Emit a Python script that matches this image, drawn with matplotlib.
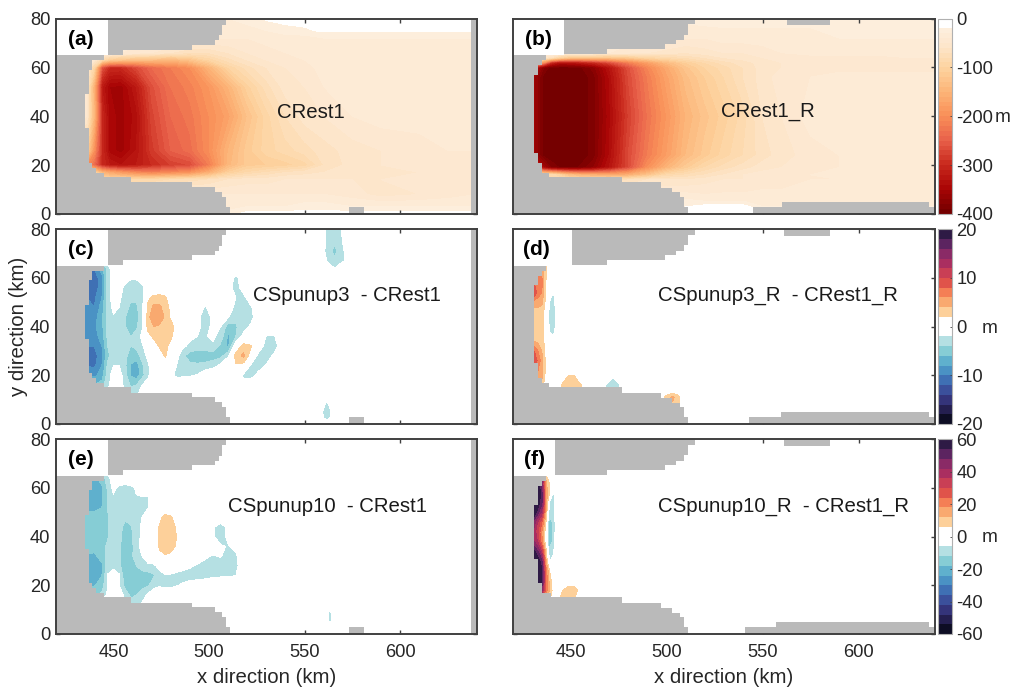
import numpy as np
import matplotlib
matplotlib.use('Agg')
import matplotlib.pyplot as plt
from matplotlib.colors import LinearSegmentedColormap, ListedColormap
from matplotlib.patches import Rectangle

plt.rcParams['font.family'] = ['Liberation Sans', 'DejaVu Sans']
plt.rcParams['axes.unicode_minus'] = False

# ---- panel a / b : mean depth (m) ----
x_top = [430, 436, 440, 444, 448, 454, 462, 470, 480, 490, 500, 510, 520, 530, 540, 550, 560, 575, 590, 610, 625, 640]

y_a = [0, 3, 8, 14, 17, 20, 26, 40, 52, 60, 63, 66, 72, 75, 80]
z_a = [
    [-30, -30, -30, -30, -30, -30, -30, -30, -30, -30, -30, -25, -15, -15, -15, -15, -15, -15, -15, -15, -15, -15],
    [-30, -30, -30, -30, -30, -30, -30, -30, -30, -30, -30, -35, -30, -30, -30, -25, -25, -30, -30, -30, -30, -30],
    [-40, -40, -40, -40, -40, -40, -40, -40, -40, -40, -40, -40, -40, -40, -40, -40, -40, -45, -55, -50, -45, -40],
    [-60, -60, -60, -80, -90, -90, -90, -90, -80, -75, -70, -60, -55, -55, -50, -50, -50, -50, -50, -45, -45, -40],
    [-100, -100, -100, -150, -170, -190, -210, -220, -210, -200, -160, -110, -90, -80, -70, -65, -60, -55, -55, -50, -45, -40],
    [-150, -200, -240, -300, -320, -330, -320, -300, -280, -270, -220, -145, -115, -110, -105, -95, -70, -55, -50, -45, -45, -40],
    [-100, -100, -200, -300, -345, -355, -330, -285, -250, -235, -200, -150, -115, -95, -85, -75, -65, -55, -50, -45, -40, -40],
    [-30, -50, -150, -300, -345, -355, -335, -275, -240, -225, -200, -175, -130, -95, -70, -55, -50, -40, -35, -35, -30, -30],
    [-30, -50, -160, -320, -350, -355, -320, -265, -230, -215, -190, -150, -105, -75, -55, -50, -40, -35, -30, -30, -30, -30],
    [-30, -50, -100, -260, -300, -300, -270, -240, -220, -200, -150, -100, -75, -60, -50, -45, -35, -35, -35, -35, -35, -35],
    [-30, -30, -50, -90, -120, -130, -140, -140, -150, -130, -100, -75, -60, -50, -45, -40, -35, -30, -30, -30, -30, -30],
    [-30, -30, -30, -30, -30, -40, -45, -50, -60, -70, -70, -60, -50, -45, -40, -35, -30, -30, -30, -30, -30, -30],
    [-35, -35, -35, -35, -35, -35, -35, -35, -35, -35, -35, -40, -40, -35, -35, -35, -30, -30, -30, -30, -30, -30],
    [-35, -35, -35, -35, -35, -35, -35, -35, -35, -35, -35, -35, -35, -30, -25, -22, -18, -18, -18, -18, -18, -18],
    [-30, -30, -30, -30, -30, -30, -30, -30, -30, -30, -30, -30, -25, -18, -15, -15, -15, -15, -15, -15, -15, -15],
]

y_b = [0, 3, 6, 14, 16, 19, 24, 40, 56, 60, 62, 64, 66, 72, 78, 80]
z_b = [
    [-15, -15, -15, -15, -15, -15, -15, -15, -15, -15, -15, -20, -15, -15, -15, -15, -15, -15, -15, -15, -15, -15],
    [-20, -20, -20, -20, -20, -20, -20, -20, -20, -20, -20, -20, -15, -15, -15, -30, -30, -30, -30, -30, -30, -30],
    [-30, -30, -30, -30, -30, -30, -30, -30, -30, -30, -30, -30, -35, -35, -35, -35, -35, -35, -35, -35, -35, -35],
    [-80, -80, -80, -80, -80, -80, -80, -80, -70, -60, -60, -60, -55, -50, -50, -45, -45, -40, -40, -40, -40, -40],
    [-80, -80, -80, -100, -130, -150, -160, -170, -160, -130, -90, -80, -70, -60, -50, -45, -40, -40, -35, -35, -35, -35],
    [-250, -350, -380, -390, -390, -390, -370, -330, -270, -200, -150, -115, -90, -75, -65, -55, -50, -45, -40, -35, -35, -35],
    [-350, -395, -400, -400, -400, -400, -385, -340, -270, -220, -180, -140, -115, -95, -80, -65, -55, -45, -40, -35, -35, -35],
    [-350, -395, -400, -400, -400, -400, -385, -345, -280, -230, -190, -150, -125, -105, -85, -60, -50, -35, -30, -30, -30, -30],
    [-350, -395, -400, -400, -400, -400, -385, -340, -270, -220, -175, -135, -110, -90, -70, -55, -45, -40, -35, -35, -35, -35],
    [-300, -380, -395, -395, -395, -395, -375, -330, -265, -210, -165, -125, -100, -85, -70, -55, -50, -45, -45, -45, -45, -45],
    [-100, -200, -300, -330, -330, -320, -300, -270, -220, -180, -140, -110, -90, -75, -65, -55, -50, -45, -45, -45, -45, -45],
    [-50, -60, -70, -100, -120, -130, -130, -130, -120, -100, -90, -80, -70, -60, -55, -50, -45, -45, -45, -45, -40, -40],
    [-30, -30, -30, -30, -30, -30, -35, -40, -45, -50, -55, -60, -55, -50, -50, -45, -40, -35, -35, -35, -35, -35],
    [-35, -35, -35, -35, -35, -35, -35, -35, -35, -35, -35, -40, -40, -35, -35, -35, -35, -35, -30, -30, -30, -30],
    [-30, -30, -30, -30, -30, -30, -30, -30, -30, -30, -30, -30, -28, -28, -28, -28, -28, -28, -28, -28, -28, -28],
    [-30, -30, -30, -30, -30, -30, -30, -30, -30, -30, -30, -30, -22, -18, -18, -18, -18, -18, -18, -18, -18, -18],
]

# ---- panel c : CSpunup3 - CRest1 ----
x_c = [432, 436, 440, 444, 447, 450, 453, 456, 459, 462, 465, 468, 471, 474, 477, 480,
       483, 486, 490, 494, 498, 502, 506, 510, 514, 518, 522, 526, 530, 534, 538, 542]
y_c = [12, 16, 20, 24, 28, 32, 36, 40, 44, 48, 52, 56, 60, 64, 68]
z_c = [
    [0, 0, 0, 0, -1, 0, 0, -2, -3, -2.5, -.5, 0, 0, 0, 0, 0] + [0] * 16,
    [-6, -6, -6, -5, -2.5, -1, -1, -2.5, -4.2, -4, -2, -1, 0, 0, 0, 0] + [0] * 9 + [-1, 0, 0, 0, 0, 0, 0],
    [-8, -8, -8.5, -7, -3, -1, -1, -3, -6.2, -7.2, -4.8, -2.5, 0, 0, 0, -1.5,
     -2.5, -2.4, -2.2, -1.8, -.5, 0, 0, 0, 0, -2.5, -3, -1, 0, 0, 0, 0],
    [-9, -10, -10.5, -8, -3.5, -2, -2, -3.5, -6.2, -7.2, -4.5, -2.5, 0, 0, 0, -.5,
     -2, -3, -3.5, -3.5, -3.2, -2.8, -1.5, 0, 1.8, 1, -2.5, -3.2, -1.8, 0, 0, 0],
    [-10, -11, -11, -8.5, -4.5, -3, -3, -3.5, -4.8, -5, -3.2, -1.5, 0, .5, 2.3, .5,
     -1, -3.5, -5, -5.5, -5.5, -5, -4.8, -2.2, 3, 4.5, .5, -3, -3.2, -1.5, 0, 0],
    [-9.5, -10, -10, -8, -4, -3, -3, -3.5, -4, -3.5, -2.2, -1, .5, 2.2, 3, 1,
     0, -1.5, -2.5, -3, -2.8, -2.5, -4.5, -6.5, 0, 3, 2.2, -.5, -3, -3.2, -.5, 0],
    [-9, -9.5, -9, -7, -3.5, -3, -3, -3.3, -4, -3.2, -1.5, 1.2, 2.5, 3, 3, 2.5,
     .5, 0, -1.5, -2, -2.2, -1.5, -2.8, -6.5, -4, -1.2, 0, 0, -2.2, -2.2, 0, 0],
    [-9, -9.5, -8.5, -6.5, -3.5, -3, -3, -3.8, -5.2, -4.5, -2.2, 2.8, 4, 3.5, 3.5, 3,
     1, 0, -1, -1.5, -2.8, -1.5, -2, -5, -4.2, -3, -1.5, 0, 0, 0, 0, 0],
    [-9, -9.5, -9, -6.5, -3, -2.2, -2.5, -3.8, -5.2, -4.8, -2.5, 3, 6, 6, 3.5, 1.5,
     0, 0, 0, -1.5, -3, -1.5, -1, -1.8, -3.5, -3.2, -2.8, 0, 0, 0, 0, 0],
    [-9, -9.5, -10, -7, -3, -1.5, -2, -3, -4.5, -4.5, -2.5, 2.5, 4.5, 4.5, 3, 1.5,
     0, 0, 0, -1, -2.2, -1, -.5, -1, -2.5, -3, -2.2, 0, 0, 0, 0, 0],
    [-9.5, -10, -10.5, -8, -3, -1, -1.5, -3, -3.5, -3.5, -3, 1.5, 2.5, 2.8, 2.3, .5,
     0, 0, 0, 0, 0, 0, 0, -1, -2, -2.6, -.5, 0, 0, 0, 0, 0],
    [-10, -11, -11.5, -8.5, -3, -1, -1, -2.5, -3, -3, -2.5, -1, 0, 0, 0, 0,
     0, 0, 0, 0, 0, 0, 0, -1, -3, -1, 0, 0, 0, 0, 0, 0],
    [-10, -11, -11.5, -8.5, -3, -1, 0, -1, -1.8, -1.8, -1, 0, 0, 0, 0, 0,
     0, 0, 0, 0, 0, 0, 0, 0, -2.8, 0, 0, 0, 0, 0, 0, 0],
    [-9, -10, -10, -7, -3, -.5, 0, 0] + [0] * 24,
    [0] * 32,
]
x_c_far = [556, 560, 563, 565.6, 568, 570.5, 574]
y_c_far = [60, 63, 67, 71, 75, 79, 83]
z_c_far = [
    [0, 0, 0, 0, 0, 0, 0],
    [0, 0, 0, -1.5, 0, 0, 0],
    [0, -1, -3, -3.5, -3, -2, 0],
    [0, -1.8, -3.3, -4.8, -3.3, -2, 0],
    [0, -1.5, -3, -3.5, -3, -1.5, 0],
    [0, -1.5, -3, -3.5, -3, -1, 0],
    [0, -1.5, -3, -3.5, -3, -1, 0],
]
x_c_low = [557, 559.5, 561.5, 563.5, 566]
y_c_low = [0, 2.5, 5, 8, 11]
z_c_low = [
    [0, 0, 0, 0, 0],
    [0, -1.8, -3, -1.8, 0],
    [0, -2.1, -3.5, -2.1, 0],
    [0, -1, -3, -1, 0],
    [0, 0, 0, 0, 0],
]

# ---- panel d : CSpunup3_R - CRest1_R ----
x_d = [431, 433, 435, 437, 439, 441, 443]
y_d = [14, 18, 22, 26, 30, 34, 38, 42, 46, 50, 54, 58, 62, 64, 66]
z_d = [
    [0, 0, 0, 0, 0, 0, 0],
    [5, 5, 4, 1.5, 0, 0, 0],
    [6, 6, 5, 1.5, 0, 0, 0],
    [10, 7.5, 5, 1.5, 0, 0, 0],
    [8, 6, 4, 1.5, 0, 0, 0],
    [4, 3.5, 3, 1, 0, 0, 0],
    [3, 3, 3, 1, -2.2, -3, -.5],
    [3, 3, 3, 1, -2.5, -3.5, -.5],
    [3, 3, 3, 1, -2.5, -3.5, -.5],
    [5, 5, 4.5, 1.5, -2.2, -3, -.5],
    [10, 7, 6, 1.8, .5, -2.2, 0],
    [8, 8, 6.5, 2, 1, 0, 0],
    [6, 6, 6, 2.5, 1, 0, 0],
    [6, 6, 5, 2.5, 0, 0, 0],
    [0, 0, 0, 2, 0, 0, 0],
]
x_d_b1 = [443, 446, 449, 452, 455, 458]
y_d_b1 = [14, 16, 18, 20, 22]
z_d_b1 = [
    [0, 3, 3.5, 3.5, 3, 0],
    [0, 2.5, 3.5, 3.5, 2.5, 0],
    [0, 1.5, 3, 3, 1, 0],
    [0, 0, 2, 2, 0, 0],
    [0, 0, 0, 0, 0, 0],
]
x_d_b2 = [466, 469, 472, 475, 478]
y_d_b2 = [14, 16, 18, 20]
z_d_b2 = [
    [0, -3, -4, -3, 0],
    [0, -2.5, -3.5, -2.5, 0],
    [0, -1, -2.8, -1, 0],
    [0, 0, -1.5, 0, 0],
]
x_d_b3 = [497, 500, 503, 506, 508]
y_d_b3 = [9, 11, 13]
z_d_b3 = [
    [0, 3, 4, 3, 0],
    [0, 3, 4.5, 3, 0],
    [0, .5, 1.5, .5, 0],
]

# ---- panel e : CSpunup10 - CRest1 ----
x_e = [432, 436, 440, 444, 447, 450, 453, 456, 459, 462, 465, 468, 471, 474, 477, 480,
       483, 486, 490, 494, 498, 502, 506, 510, 514, 518]
y_e = y_c
z_e = [
    [0, 0, 0, 0, -4, 0, 0, -6, -10, -8, -5, 0, 0, 0, 0, 0] + [0] * 10,
    [-14, -14, -14, -10, -5, -1, -1, -8, -13, -12, -9, -5, -2, 0, 0, 0] + [0] * 10,
    [-19, -19, -18.5, -15, -6, -2, -6, -14, -15, -15, -14, -13, -8, -7, -8, -8,
     -6.5, -5, -3, -2, -1, 0, 0, 0, 0, 0],
    [-20, -21, -21, -18, -5.5, -2, -5, -16, -16, -15, -15, -15, -13, -8, -6.5, -7,
     -8, -9, -9, -9, -8.5, -7.5, -7, -7, -6, 0],
    [-20, -21, -21, -19, -9, -8, -11, -15, -15, -12, -9, -7, -7, -4.5, -2, -1,
     -2, -3, -5, -7, -8, -9, -9, -10, -8, -1],
    [-18, -19, -19, -16, -10, -8, -11, -15, -14, -9, -6, -3.5, -1.5, 5, 5.5, 4,
     0, 0, -1, -2, -5, -6.5, -5.5, -9, -7, -2],
    [-15, -15, -16, -14, -11, -8, -11, -15, -15, -8, -4, -1, 1, 6.5, 9.5, 9,
     5, 0, 0, 0, -1, -3, -5, -6.5, -4, 0],
    [-14, -14, -14, -14, -12.5, -8, -10, -15, -14, -8, -5, -2, 1, 7, 10, 10,
     6, 0, 0, 0, 0, -5, -10, -4, 0, 0],
    [-15, -15, -15, -15, -13, -8, -10, -13.5, -13, -8, -5, -2, .5, 6.5, 10, 9,
     5, 0, 0, 0, 0, -5, -9, -4, 0, 0],
    [-16, -16, -16, -15, -12.5, -8, -10, -11, -9, -8, -6, -2, 0, 4, 8, 7,
     1, 0, 0, 0, 0, 0, -1, 0, 0, 0],
    [-19, -19, -19.5, -18, -12, -8, -9, -9, -9, -8, -8, -6.5, -1, 0, 0, 0] + [0] * 10,
    [-20, -21, -21, -19, -12, -7, -9, -9, -8.5, -6.5, -6.5, -7, -2, 0, 0, 0] + [0] * 10,
    [-21, -21, -21, -19, -11, -4, -8, -9, -8, -5, -2, 0, 0, 0, 0, 0] + [0] * 10,
    [-20, -20, -20, -15, -9, -1, 0, 0] + [0] * 18,
    [0] * 26,
]
x_e_low = [561, 563.2, 565]
y_e_low = [3, 5, 7, 9, 11]
z_e_low = [
    [0, 0, 0],
    [0, -8, 0],
    [0, -11, 0],
    [0, -8, 0],
    [0, 0, 0],
]

# ---- panel f : CSpunup10_R - CRest1_R ----
x_f = [431, 433, 435, 437, 439, 441, 443, 446, 449, 452, 455, 458]
y_f = [14, 16, 18, 22, 26, 30, 34, 38, 42, 46, 50, 54, 58, 62, 64, 66]
z_f = [
    [60, 60, 30, 12, 6, 2, 4, 7, 8, 7, 3, 0],
    [60, 60, 35, 16, 9, 3, 4, 7, 9, 7, 3, 0],
    [60, 60, 45, 22, 12, 3, 2, 6, 10, 9, 3, 0],
    [60, 60, 55, 25, 10, 1, 0, 0, 0, 0, 0, 0],
    [60, 58, 55, 22, 6, 0, 0, 0, 0, 0, 0, 0],
    [60, 58, 50, 15, -6.5, -4, 0, 0, 0, 0, 0, 0],
    [55, 48, 35, 10, -10, -7, 0, 0, 0, 0, 0, 0],
    [42, 35, 20, 3, -19, -9, -1, 0, 0, 0, 0, 0],
    [40, 30, 18, 3, -19, -10, -1, 0, 0, 0, 0, 0],
    [45, 35, 25, 8, -16, -10, -1, 0, 0, 0, 0, 0],
    [60, 50, 40, 14, -10, -9, -1, 0, 0, 0, 0, 0],
    [60, 58, 50, 18, -6, -8, -1, 0, 0, 0, 0, 0],
    [60, 60, 50, 18, 6, -7, 0, 0, 0, 0, 0, 0],
    [60, 60, 45, 14, 6, 0, 0, 0, 0, 0, 0, 0],
    [60, 60, 55, 12, 0, 0, 0, 0, 0, 0, 0, 0],
    [0, 0, 0, 0, 0, 0, 0, 0, 0, 0, 0, 0],
]

# ---- land mask (step edges in km) ----
top_x_l = [420, 455, 491, 503, 505, 507, 509]
top_y_l = [65.2, 67.3, 69.3, 71, 73.3, 77.5, 77.5]
top_x_r = [420, 469, 499, 505, 509, 511, 515]
top_y_r = [65.3, 67.4, 69.5, 71, 73.4, 77.7, 77.7]
left_y_l = [15, 16.7, 18.7, 21, 35, 49, 59, 63, 65]
left_x_l = [445, 441, 439, 437, 435, 437, 439, 445, 445]
bot_x_l = [420, 459, 491, 503, 507, 509, 511]
bot_y_l = [15, 12.9, 10.9, 8.9, 6.8, 2.7, 2.7]
bot_x_r = [420, 477, 497, 503, 507, 509, 511]
bot_y_r = [15, 12.9, 10.8, 8.8, 6.8, 2.7, 2.7]
left_b = ([15, 16.9, 20.7, 24.8, 56.8, 60.9, 63.2, 65], [439, 435, 433, 431, 433, 435, 437, 437])
left_d = ([15, 16.7, 18.7, 25, 57, 61, 63, 65], [439, 435, 433, 431, 433, 435, 437, 437])
left_f = ([15, 16.7, 20.8, 31, 53, 61, 63, 65], [440, 435, 433, 431, 433, 435, 437, 437])
right_b = ([545, 560, 636.7, 640], [2.7, 4.8, 2.7, 2.7])
right_d = ([543, 559.6, 636.7, 640], [2.7, 4.8, 2.7, 2.7])
right_f = ([541, 557, 636.7, 640], [2.7, 4.8, 2.7, 2.7])

GRAY = '#bababa'
FRAME = '#404040'
TXT = '#262626'
FS = 13.2
W, H = 1025, 699

depth_levels = np.arange(-400, 1, 10)
depth_stops = [(0, '#750000'), (.125, '#aa0505'), (.25, '#c92a1e'), (.375, '#e8604a'), (.5, '#f98f58'),
               (.625, '#fcb376'), (.75, '#fdd39f'), (.875, '#fde6cc'), (.95, '#fdeedc'), (.96, '#ffffff'), (1, '#ffffff')]
depth_cmap = LinearSegmentedColormap.from_list('depth', depth_stops, N=40)
diff_colors = ['#0d0d24', '#241f50', '#34347a', '#3b509b', '#3f70b4', '#4a92c4', '#5fb0cd', '#86cdd5', '#b5e0e3', '#ffffff',
               '#ffffff', '#fdd09a', '#f9a96f', '#f47f55', '#e0534a', '#c93f55', '#aa2e60', '#8a2a66', '#5c2460', '#2e1a45']
diff_cmap = ListedColormap(diff_colors)


def px_axes(fig, x0, y0, x1, y1):
    return fig.add_axes([x0 / W, 1 - y1 / H, (x1 - x0) / W, (y1 - y0) / H])


def draw_land(ax, top, left, bot, right=None, cap=None, box=447):
    ax.fill_between(top[0], top[1], 80, step='post', color=GRAY, lw=0, zorder=3)
    ax.fill_betweenx(left[0], 420, left[1], step='post', color=GRAY, lw=0, zorder=3)
    ax.fill_between(bot[0], 0, bot[1], step='post', color=GRAY, lw=0, zorder=3)
    if right is not None:
        ax.fill_between(right[0], 0, right[1], step='post', color=GRAY, lw=0, zorder=3)
    if cap is not None:
        ax.add_patch(Rectangle((cap[0], cap[2]), cap[1] - cap[0], 80 - cap[2], color=GRAY, lw=0, zorder=3))
    ax.add_patch(Rectangle((420, 65), box - 420, 15, color='white', lw=0, zorder=4))


def style(ax, letter, title, tx, ty, lx, ly):
    ax.set_xlim(420, 640)
    ax.set_ylim(0, 80)
    ax.set_xticks([450, 500, 550, 600])
    ax.set_yticks([0, 20, 40, 60, 80])
    ax.tick_params(direction='in', top=True, right=True, length=3, width=1, color=FRAME,
                   labelsize=FS, labelcolor=TXT, labelbottom=False, labelleft=False)
    for sp in ax.spines.values():
        sp.set_color(FRAME)
        sp.set_linewidth(1.4)
        sp.set_zorder(6)
    ax.text(lx, ly, letter, fontsize=15, fontweight='bold', color='black', ha='center', va='center', zorder=5)
    ax.text(tx, ty, title, fontsize=14.7, color='#1a1a1a', ha='center', va='center', zorder=5)


def bar(fig, cs, y0, y1, ticks):
    cax = px_axes(fig, 938.3, y0, 951.7, y1)
    cb = fig.colorbar(cs, cax=cax, ticks=ticks)
    cb.outline.set_edgecolor('#b0b0b0')
    cb.outline.set_linewidth(.8)
    cb.ax.tick_params(length=1.5, width=.6, color=FRAME, labelsize=FS, labelcolor=TXT, pad=3.5, direction='in')
    return cb


fig = plt.figure(figsize=(W / 100, H / 100), dpi=100, facecolor='white')

row_y = [(18.5, 214), (229.3, 424), (439.3, 634)]
ax_a = px_axes(fig, 56, row_y[0][0], 477, row_y[0][1])
ax_b = px_axes(fig, 513, row_y[0][0], 935.3, row_y[0][1])
ax_c = px_axes(fig, 56, row_y[1][0], 477, row_y[1][1])
ax_d = px_axes(fig, 513, row_y[1][0], 935.3, row_y[1][1])
ax_e = px_axes(fig, 56, row_y[2][0], 477, row_y[2][1])
ax_f = px_axes(fig, 513, row_y[2][0], 935.3, row_y[2][1])

# contours
cs_a = ax_a.contourf(x_top, y_a, z_a, levels=depth_levels, cmap=depth_cmap)
cs_b = ax_b.contourf(x_top, y_b, z_b, levels=depth_levels, cmap=depth_cmap)

lv3 = np.arange(-20, 21, 2)
lv10 = np.arange(-60, 61, 6)
cs_c = ax_c.contourf(x_c, y_c, z_c, levels=lv3, cmap=diff_cmap)
ax_c.contourf(x_c_far, y_c_far, z_c_far, levels=lv3, cmap=diff_cmap)
ax_c.contourf(x_c_low, y_c_low, z_c_low, levels=lv3, cmap=diff_cmap)
cs_d = ax_d.contourf(x_d, y_d, z_d, levels=lv3, cmap=diff_cmap)
ax_d.contourf(x_d_b1, y_d_b1, z_d_b1, levels=lv3, cmap=diff_cmap)
ax_d.contourf(x_d_b2, y_d_b2, z_d_b2, levels=lv3, cmap=diff_cmap)
ax_d.contourf(x_d_b3, y_d_b3, z_d_b3, levels=lv3, cmap=diff_cmap)
cs_e = ax_e.contourf(x_e, y_e, z_e, levels=lv10, cmap=diff_cmap)
ax_e.contourf(x_e_low, y_e_low, z_e_low, levels=lv10, cmap=diff_cmap)
cs_f = ax_f.contourf(x_f, y_f, z_f, levels=lv10, cmap=diff_cmap)

# land
for ax in [ax_a, ax_c, ax_e]:
    draw_land(ax, (top_x_l, top_y_l), (left_y_l, left_x_l), (bot_x_l, bot_y_l),
              right=([573, 581], [2.7, 2.7]), cap=None)
    ax.fill_between([637, 640], 0, 80, color=GRAY, lw=0, zorder=3)
draw_land(ax_b, (top_x_r, top_y_r), left_b, (bot_x_r, bot_y_r), right=right_b, cap=(563, 585, 77.3), box=446.4)
draw_land(ax_d, (top_x_r, top_y_r), left_d, (bot_x_r, bot_y_r), right=right_d, cap=(561, 585, 77.4), box=450.5)
draw_land(ax_f, (top_x_r, top_y_r), left_f, (bot_x_r, bot_y_r), right=right_f, cap=(561, 585, 77.4), box=442)

style(ax_a, '(a)', 'CRest1', 553, 41.7, 433, 71.6)
style(ax_b, '(b)', 'CRest1_R', 552.7, 42, 433, 71.6)
style(ax_c, '(c)', 'CSpunup3  - CRest1', 572, 52.9, 433, 71.6)
style(ax_d, '(d)', 'CSpunup3_R  - CRest1_R', 558, 52.9, 432, 71.6)
style(ax_e, '(e)', 'CSpunup10  - CRest1', 562, 52.5, 433, 71.6)
style(ax_f, '(f)', 'CSpunup10_R  - CRest1_R', 561, 52.5, 431, 71.6)

for ax in [ax_a, ax_c, ax_e]:
    ax.tick_params(labelleft=True, pad=4)
for ax in [ax_e, ax_f]:
    ax.tick_params(axis='x', labelbottom=True, pad=7)

# colour bars
bar(fig, cs_b, row_y[0][0], row_y[0][1], [0, -100, -200, -300, -400])
bar(fig, cs_d, row_y[1][0], row_y[1][1], [-20, -10, 0, 10, 20])
bar(fig, cs_f, row_y[2][0], row_y[2][1], [-60, -40, -20, 0, 20, 40, 60])

fig.text(1003 / W, 1 - 118 / H, 'm', fontsize=FS + .5, color=TXT, ha='center', va='center')
fig.text(990 / W, 1 - 328 / H, 'm', fontsize=FS + .5, color=TXT, ha='center', va='center')
fig.text(990 / W, 1 - 538 / H, 'm', fontsize=FS + .5, color=TXT, ha='center', va='center')

fig.text(266.7 / W, 1 - 677.7 / H, 'x direction (km)', fontsize=14.7, color=TXT, ha='center', va='center')
fig.text(724 / W, 1 - 677.7 / H, 'x direction (km)', fontsize=14.7, color=TXT, ha='center', va='center')
fig.text(19 / W, 1 - 326 / H, 'y direction (km)', fontsize=14.7, color=TXT, ha='center', va='center', rotation=90)

fig.savefig('out.png', dpi=100)
